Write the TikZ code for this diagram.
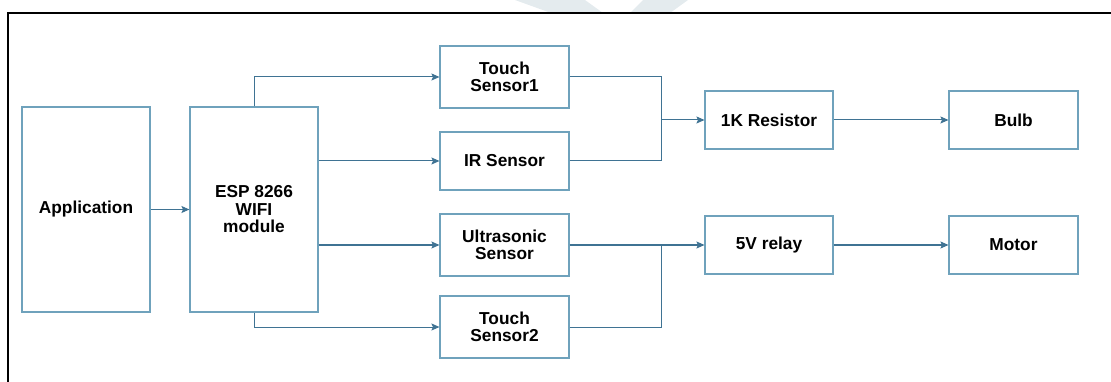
\documentclass[tikz,border=0pt]{standalone}
\usepackage{fontspec}
\setmainfont{Liberation Sans}
\usepackage{xcolor}
\usepackage{tikz}
\usetikzlibrary{arrows.meta, positioning}

\definecolor{boxblue}{HTML}{6FA2BC}
\definecolor{wireblue}{HTML}{3F7393}
\definecolor{markgrey}{HTML}{E4EBEE}

\begin{document}
\begin{tikzpicture}[x=1pt, y=-1pt,
		blockbox/.style={draw=boxblue, line width=1.1pt, rectangle, align=center,
			font=\bfseries\fontsize{17.3}{17.5}\selectfont, inner sep=0pt},
		wire/.style={draw=wireblue, line width=1pt},
		flow/.style={wire, -{Stealth[length=8pt, width=7pt, inset=1.5pt]}}]
			\useasboundingbox (0, 0) rectangle (1111, 382);
			% Watermark and frame:
			\fill[markgrey] (515, 0) -- (585, 0) -- (603, 13) -- (551, 13) -- cycle;
			\fill[markgrey] (643, 0) -- (688, 0) -- (670, 13) -- (630, 13) -- cycle;
			\draw[black, line width=1.3pt] (8, 382) -- (8, 13) -- (1111, 13);
			% Blocks:
			\node[blockbox, minimum width=128pt, minimum height=205pt](App) at (86, 209.5){Application};
			\node[blockbox, minimum width=128pt, minimum height=205pt](ESP) at (254, 209.5){ESP 8266\\WIFI\\module};
			\node[blockbox, minimum width=129pt, minimum height=62pt](TS1) at (504.5, 77){Touch\\Sensor1};
			\node[blockbox, minimum width=129pt, minimum height=58pt](IR) at (504.5, 161){IR Sensor};
			\node[blockbox, minimum width=129pt, minimum height=62pt](US) at (504.5, 245){Ultrasonic\\Sensor};
			\node[blockbox, minimum width=129pt, minimum height=62pt](TS2) at (504.5, 327){Touch\\Sensor2};
			\node[blockbox, minimum width=128pt, minimum height=58pt](Res) at (769, 120){1K Resistor};
			\node[blockbox, minimum width=129pt, minimum height=58pt](Bulb) at (1013.5, 120){Bulb};
			\node[blockbox, minimum width=128pt, minimum height=58pt](Relay) at (769, 245){5V relay};
			\node[blockbox, minimum width=129pt, minimum height=58pt](Motor) at (1013.5, 245){Motor};
			\coordinate (J1) at (661, 120);
			\coordinate (J2) at (661, 245);
			% Connectors:
			\draw[flow] (App.east) -- (ESP.west);
			\draw[flow] (ESP.north) |- (TS1.west);
			\draw[flow] (ESP.east |- IR.west) -- (IR.west);
			\draw[flow] (ESP.east |- US.west) -- (US.west);
			\draw[flow] (ESP.south) |- (TS2.west);
			\draw[wire] (TS1.east) -| (J1);
			\draw[wire] (IR.east) -| (J1);
			\draw[flow] (J1) -- (Res.west);
			\draw[wire] (TS2.east) -| (J2);
			\draw[flow] (US.east) -- (Relay.west);
			\draw[flow] (Res.east) -- (Bulb.west);
			\draw[flow] (Relay.east) -- (Motor.west);
		\end{tikzpicture}
\end{document}
